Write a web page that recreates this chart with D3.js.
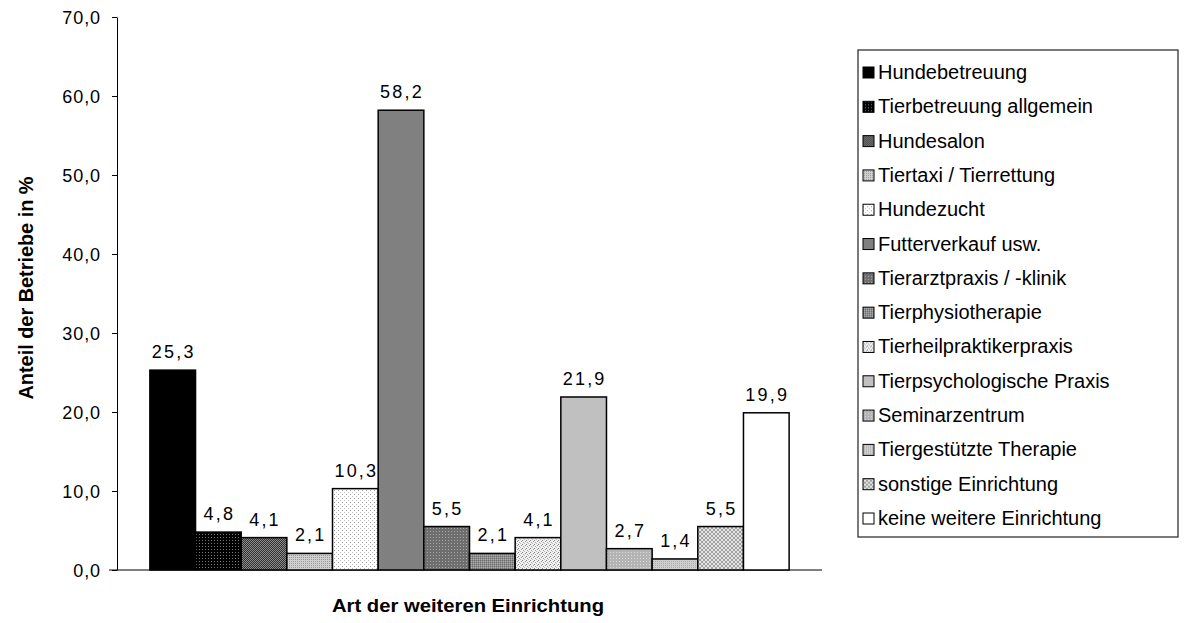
<!DOCTYPE html>
<html>
<head>
<meta charset="utf-8">
<script src="https://cdn.jsdelivr.net/npm/d3@7"></script>
<style>
  body { margin: 0; background: #fff; }
  text { font-family: Arial, "Liberation Sans", sans-serif; }
</style>
</head>
<body>
<div id="chart"></div>
<script>
// categories and values
var categories = ["Hundebetreuung", "Tierbetreuung allgemein", "Hundesalon", "Tiertaxi / Tierrettung",
  "Hundezucht", "Futterverkauf usw.", "Tierarztpraxis / -klinik", "Tierphysiotherapie",
  "Tierheilpraktikerpraxis", "Tierpsychologische Praxis", "Seminarzentrum", "Tiergestützte Therapie",
  "sonstige Einrichtung", "keine weitere Einrichtung"];
var values = [25.3, 4.8, 4.1, 2.1, 10.3, 58.2, 5.5, 2.1, 4.1, 21.9, 2.7, 1.4, 5.5, 19.9];
var yTicks = [0, 10, 20, 30, 40, 50, 60, 70];

var W = 1191, H = 623;
var margin = {top: 17, left: 117, right: 369, bottom: 53};
var width = W - margin.left - margin.right,
    height = H - margin.top - margin.bottom;

var svg = d3.select("#chart").append("svg")
  .attr("width", W).attr("height", H);

// fill patterns (grey-scale hatches like the original)
var defs = svg.append("defs");
function dotPattern(id, size, bg, dots) {
  var p = defs.append("pattern").attr("id", id)
    .attr("patternUnits", "userSpaceOnUse")
    .attr("width", size).attr("height", size);
  p.append("rect").attr("width", size).attr("height", size).attr("fill", bg);
  dots.forEach(function(d) {
    p.append("rect").attr("x", d[0]).attr("y", d[1])
      .attr("width", d[3] || 1).attr("height", d[3] || 1).attr("fill", d[2]);
  });
}
dotPattern("p1", 3, "#000", [[1, 1, "#777"]]);
dotPattern("p2", 2, "#333", [[0, 0, "#8a8a8a"], [1, 1, "#8a8a8a"]]);
dotPattern("p3", 2, "#d0d0d0", [[0, 0, "#999"]]);
dotPattern("p4", 4, "#fff", [[1, 1, "#999"], [3, 3, "#bbb"]]);
dotPattern("p5", 3, "#6e6e6e", [[1, 1, "#aaa"]]);
dotPattern("p6", 2, "#8c8c8c", [[0, 0, "#b0b0b0"], [1, 1, "#6c6c6c"]]);
dotPattern("p7", 4, "#f0f0f0", [[0, 0, "#999"], [2, 1, "#aaa"], [1, 3, "#888"], [3, 2, "#bbb"]]);
dotPattern("p8", 3, "#b4b4b4", [[1, 1, "#dadada"]]);
dotPattern("p9", 2, "#cfcfcf", [[0, 0, "#a8a8a8"]]);
dotPattern("p10", 4, "#e4e4e4", [[0, 0, "#a0a0a0", 2], [2, 2, "#a0a0a0", 2]]);

var fills = ["#000", "url(#p1)", "url(#p2)", "url(#p3)", "url(#p4)", "#808080", "url(#p5)",
  "url(#p6)", "url(#p7)", "#c0c0c0", "url(#p8)", "url(#p9)", "url(#p10)", "#fff"];

var g = svg.append("g")
  .attr("transform", "translate(" + margin.left + "," + margin.top + ")");

var x = d3.scaleBand().domain(categories).range([0, width]).paddingOuter(0.72).paddingInner(0);
var y = d3.scaleLinear().domain([0, 70]).range([height, 0]);

var fmt = function(d) { return d3.format(".1f")(d).replace(".", ","); };

// y axis
var yAxis = g.append("g")
  .call(d3.axisLeft(y).tickValues(yTicks).tickSize(5).tickSizeOuter(0).tickFormat(fmt));
yAxis.select(".domain").attr("stroke", "#000");
yAxis.selectAll("line").attr("stroke", "#000");
yAxis.selectAll("text").attr("x", -16).attr("dy", "0.36em")
  .attr("font-size", 18).attr("letter-spacing", 0.9).attr("fill", "#000")
  .style("font-family", "Arial, 'Liberation Sans', sans-serif");

// x baseline
g.append("line").attr("x1", -8).attr("x2", width)
  .attr("y1", y(0)).attr("y2", y(0)).attr("stroke", "#000");

// bars
g.selectAll(".bar").data(values).enter().append("rect")
  .attr("class", "bar")
  .attr("x", function(d, i) { return x(categories[i]); })
  .attr("width", x.bandwidth())
  .attr("y", function(d) { return y(d); })
  .attr("height", function(d) { return y(0) - y(d); })
  .attr("fill", function(d, i) { return fills[i]; })
  .attr("stroke", "#000").attr("stroke-width", 1.5);

// value labels
g.selectAll(".lab").data(values).enter().append("text")
  .attr("class", "lab")
  .attr("x", function(d, i) { return x(categories[i]) + x.bandwidth() / 2 + 1; })
  .attr("y", function(d) { return y(d) - 12; })
  .attr("text-anchor", "middle").attr("font-size", 18).attr("letter-spacing", 2.2)
  .text(fmt);

// axis titles
svg.append("text")
  .attr("transform", "translate(33,288) rotate(-90)")
  .attr("text-anchor", "middle").attr("font-size", 21).attr("font-weight", "bold")
  .attr("textLength", 223).attr("lengthAdjust", "spacingAndGlyphs")
  .text("Anteil der Betriebe in %");

svg.append("text")
  .attr("x", 468).attr("y", 612)
  .attr("text-anchor", "middle").attr("font-size", 18).attr("font-weight", "bold")
  .attr("textLength", 272).attr("lengthAdjust", "spacingAndGlyphs")
  .text("Art der weiteren Einrichtung");

// legend
var lg = svg.append("g").attr("transform", "translate(858,50)");
lg.append("rect").attr("width", 320).attr("height", 487)
  .attr("fill", "#fff").attr("stroke", "#222").attr("stroke-width", 1.2);
var ly = d3.scalePoint().domain(categories).range([22, 468]);
var items = lg.selectAll(".li").data(categories).enter().append("g")
  .attr("transform", function(d) { return "translate(0," + ly(d) + ")"; });
items.append("rect").attr("x", 5).attr("y", -5).attr("width", 11).attr("height", 11)
  .attr("fill", function(d, i) { return fills[i]; })
  .attr("stroke", "#000").attr("stroke-width", 1);
items.append("text").attr("x", 20).attr("y", 7).attr("font-size", 20)
  .text(function(d) { return d; });
</script>
</body>
</html>
